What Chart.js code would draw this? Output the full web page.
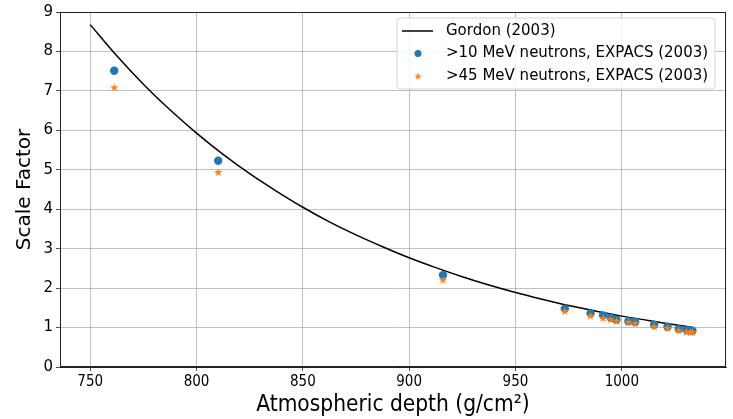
<!DOCTYPE html>
<html><head><meta charset="utf-8">
<script src="https://cdn.jsdelivr.net/npm/chart.js@4"></script>
<style>html,body{margin:0;padding:0;background:#fff}canvas{display:block}</style>
</head><body>
<canvas id="c" width="733" height="419"></canvas>
<script>
// Gordon (2003) curve
const gordonDepth = [750, 762.5, 775, 787.5, 800, 812.5, 825, 837.5, 850, 862.5, 875, 887.5, 900, 912.5, 925, 937.5, 950, 962.5, 975, 987.5, 1000, 1012.5, 1025, 1033];
const gordonFactor = [8.68, 7.89, 7.17, 6.52, 5.93, 5.39, 4.90, 4.46, 4.05, 3.68, 3.35, 3.05, 2.77, 2.52, 2.29, 2.08, 1.89, 1.72, 1.56, 1.42, 1.29, 1.18, 1.07, 1.005];
// EXPACS points
const expacsDepth = [761.3, 810.2, 915.9, 973.2, 985.3, 991.2, 994.8, 997.5, 1003.1, 1006.3, 1015.2, 1021.5, 1026.8, 1030.4, 1032.3, 1033.2];
const mev10Factor = [7.51, 5.23, 2.33, 1.48, 1.36, 1.31, 1.25, 1.20, 1.16, 1.14, 1.07, 1.02, 0.96, 0.935, 0.93, 0.92];
const mev45Factor = [7.08, 4.93, 2.20, 1.41, 1.29, 1.23, 1.20, 1.16, 1.13, 1.10, 1.02, 0.98, 0.92, 0.885, 0.88, 0.875];
const xTicks = [750, 800, 850, 900, 950, 1000];
const yTicks = [0, 1, 2, 3, 4, 5, 6, 7, 8, 9];
const seriesNames = ["Gordon (2003)", ">10 MeV neutrons, EXPACS (2003)", ">45 MeV neutrons, EXPACS (2003)"];

const BLUE = '#1f77b4', ORANGE = '#ff7f0e';
function starImg(size, color) {
  const c = document.createElement('canvas');
  c.width = size; c.height = size;
  const g = c.getContext('2d');
  const cx = size / 2, cy = size / 2, R = size / 2, r = R * 0.4;
  g.beginPath();
  for (let i = 0; i < 10; i++) {
    const a = -Math.PI / 2 + i * Math.PI / 5;
    const rr = i % 2 === 0 ? R : r;
    g.lineTo(cx + rr * Math.cos(a), cy + rr * Math.sin(a));
  }
  g.closePath();
  g.fillStyle = color; g.fill();
  return c;
}
const star = starImg(9, ORANGE);

const toXY = (xs, ys) => xs.map((x, i) => ({x: x, y: ys[i]}));

const frame = {
  id: 'frame',
  afterDatasetsDraw(chart) {
    const {ctx, chartArea: a} = chart;
    ctx.save();
    ctx.strokeStyle = '#222'; ctx.lineWidth = 1;
    ctx.strokeRect(a.left + 0.5, a.top + 0.5, a.right - a.left - 1, a.bottom - a.top - 1);
    ctx.restore();
  },
  afterDraw(chart) {
    const ctx = chart.ctx;
    ctx.save();
    const L = 397, T = 18, W = 318, H = 71, rad = 4;
    ctx.beginPath();
    ctx.moveTo(L + rad, T); ctx.lineTo(L + W - rad, T); ctx.arcTo(L + W, T, L + W, T + rad, rad);
    ctx.lineTo(L + W, T + H - rad); ctx.arcTo(L + W, T + H, L + W - rad, T + H, rad);
    ctx.lineTo(L + rad, T + H); ctx.arcTo(L, T + H, L, T + H - rad, rad);
    ctx.lineTo(L, T + rad); ctx.arcTo(L, T, L + rad, T, rad);
    ctx.closePath();
    ctx.fillStyle = 'rgba(255,255,255,0.85)'; ctx.fill();
    ctx.strokeStyle = '#d5d5d5'; ctx.lineWidth = 1; ctx.stroke();
    const rows = [31, 53.5, 76.5];
    ctx.strokeStyle = '#000'; ctx.lineWidth = 1.5;
    ctx.beginPath(); ctx.moveTo(402, rows[0]); ctx.lineTo(433, rows[0]); ctx.stroke();
    ctx.fillStyle = BLUE; ctx.beginPath(); ctx.arc(418, rows[1], 3.5, 0, Math.PI * 2); ctx.fill();
    ctx.drawImage(starImg(8, ORANGE), 414, rows[2] - 4);
    ctx.fillStyle = '#000'; ctx.font = '15px "DejaVu Sans"'; ctx.textBaseline = 'middle';
    seriesNames.forEach((n, i) => ctx.fillText(n, 446, rows[i]));
    ctx.restore();
  }
};

new Chart(document.getElementById('c'), {
  type: 'scatter',
  data: {
    datasets: [
      {label: seriesNames[0], data: toXY(gordonDepth, gordonFactor), showLine: true, borderColor: '#000', borderWidth: 1.5, pointRadius: 0, tension: 0.3, order: 3},
      {label: seriesNames[1], data: toXY(expacsDepth, mev10Factor), backgroundColor: BLUE, borderColor: BLUE, pointRadius: 4.2, borderWidth: 0, order: 2},
      {label: seriesNames[2], data: toXY(expacsDepth, mev45Factor), pointStyle: star, order: 1}
    ]
  },
  options: {
    responsive: false, animation: false, devicePixelRatio: 1,
    layout: {padding: {top: 11, right: 7, left: 0, bottom: 0}},
    plugins: {legend: {display: false}, tooltip: {enabled: false}},
    scales: {
      x: {
        type: 'linear', min: 735.8, max: 1049,
        afterBuildTicks: s => { s.ticks = xTicks.map(v => ({value: v})); },
        afterFit: s => { s.height = 52; },
        grid: {color: '#b0b0b0', lineWidth: 0.8, tickColor: '#222', tickLength: 4},
        border: {color: '#222', width: 1},
        ticks: {color: '#000', font: {family: '"DejaVu Sans Condensed", "DejaVu Sans"', size: 15}, padding: 2, maxRotation: 0, callback: v => String(v)},
        title: {display: true, text: 'Atmospheric depth (g/cm²)', color: '#000', font: {family: '"DejaVu Sans Condensed", "DejaVu Sans"', size: 22.5}, padding: {top: 0, bottom: 0}}
      },
      y: {
        type: 'linear', min: 0, max: 9,
        afterBuildTicks: s => { s.ticks = yTicks.map(v => ({value: v})); },
        afterFit: s => { s.width = 60; },
        grid: {color: '#b0b0b0', lineWidth: 0.8, tickColor: '#222', tickLength: 4},
        border: {color: '#222', width: 1},
        ticks: {color: '#000', font: {family: '"DejaVu Sans"', size: 15}, padding: 3},
        title: {display: true, text: 'Scale Factor', color: '#000', font: {family: '"DejaVu Sans"', size: 20}, padding: {top: 13, bottom: 0}}
      }
    }
  },
  plugins: [frame]
});
</script>
</body></html>
